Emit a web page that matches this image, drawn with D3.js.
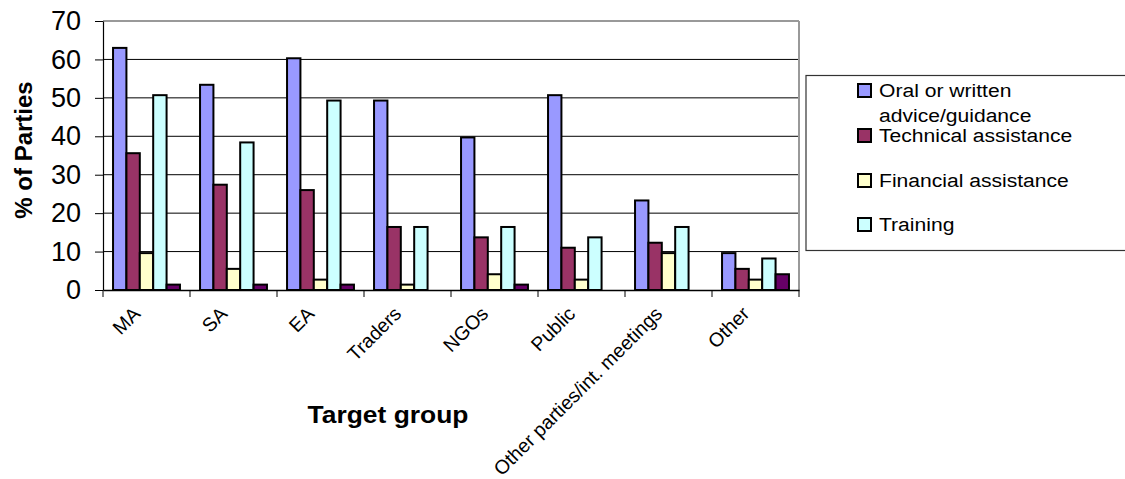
<!DOCTYPE html>
<html>
<head>
<meta charset="utf-8">
<script src="https://cdn.jsdelivr.net/npm/d3@7"></script>
<style>
  html, body { margin: 0; padding: 0; background: #fff; }
  svg { display: block; font-family: "Liberation Sans", Arial, sans-serif; }
</style>
</head>
<body>
<svg id="chart" width="1125" height="479"></svg>
<script>
// ---- data ----
const categories = ["MA", "SA", "EA", "Traders", "NGOs", "Public", "Other parties/int. meetings", "Other"];
const seriesNames = ["Oral or written advice/guidance", "Technical assistance", "Financial assistance", "Training", "Other support"];
const oralValues      = [63.0, 53.4, 60.3, 49.3, 39.7, 50.7, 23.3, 9.6];
const technicalValues = [35.6, 27.4, 26.0, 16.4, 13.7, 11.0, 12.3, 5.5];
const financialValues = [9.6, 5.5, 2.7, 1.4, 4.1, 2.7, 9.6, 2.7];
const trainingValues  = [50.7, 38.4, 49.3, 16.4, 16.4, 13.7, 16.4, 8.2];
const otherValues     = [1.4, 1.4, 1.4, 0, 1.4, 0, 0, 4.1];
const yTicks = [0, 10, 20, 30, 40, 50, 60, 70];
const legendEntries = [["Oral or written", "advice/guidance"], ["Technical assistance"], ["Financial assistance"], ["Training"]];
const colors = ["#9999FF", "#993366", "#FFFFCC", "#CCFFFF", "#660066"];

const seriesValues = [oralValues, technicalValues, financialValues, trainingValues, otherValues];

// ---- layout ----
const svg = d3.select("#chart");
const plot = { left: 103, right: 799, top: 21, bottom: 290 };

const x = d3.scaleBand().domain(categories).range([plot.left, plot.right]).paddingInner(0).paddingOuter(0);
const bw = x.bandwidth() / 6.5;
const xs = d3.scaleBand().domain(d3.range(5)).range([0.75 * bw, x.bandwidth() - 0.75 * bw]);
const y = d3.scaleLinear().domain([0, 70]).range([plot.bottom, plot.top]);

// gridlines
svg.append("g").selectAll("line").data(yTicks.filter(d => d > 0)).join("line")
  .attr("x1", plot.left).attr("x2", plot.right)
  .attr("y1", d => y(d)).attr("y2", d => y(d))
  .attr("stroke", d => d === 70 ? "#999" : "#000").attr("stroke-width", d => d === 70 ? 2 : 1);

// right border of plot area
svg.append("line").attr("x1", plot.right).attr("x2", plot.right)
  .attr("y1", plot.top).attr("y2", plot.bottom).attr("stroke", "#999").attr("stroke-width", 2);

// bars
const rows = [];
categories.forEach((c, i) => seriesValues.forEach((vals, s) => {
  if (vals[i] > 0) rows.push({ c, s, v: vals[i] });
}));
svg.append("g").selectAll("rect").data(rows).join("rect")
  .attr("x", d => x(d.c) + xs(d.s))
  .attr("y", d => y(d.v))
  .attr("width", xs.bandwidth())
  .attr("height", d => y(0) - y(d.v))
  .attr("fill", d => colors[d.s])
  .attr("stroke", "#000").attr("stroke-width", 2);

// y axis
const yAxis = svg.append("g").attr("transform", `translate(${plot.left},0)`)
  .call(d3.axisLeft(y).tickValues(yTicks).tickSize(8).tickPadding(14).tickSizeOuter(0));
yAxis.select(".domain").attr("stroke", "#000").attr("stroke-width", 1.2);
yAxis.selectAll(".tick line").attr("stroke", "#000");
yAxis.selectAll(".tick text").attr("font-size", 27).attr("fill", "#000")
  .attr("font-family", "Liberation Sans, Arial, sans-serif");

// x axis
const xAxis = svg.append("g").attr("transform", `translate(0,${plot.bottom})`)
  .call(d3.axisBottom(x).tickSize(0).tickFormat(""));
xAxis.select(".domain").attr("stroke", "#000").attr("stroke-width", 1.5);
// category boundary ticks
const bounds = categories.map(c => x(c)).concat([plot.right]);
svg.append("g").selectAll("line").data(bounds).join("line")
  .attr("x1", d => d).attr("x2", d => d)
  .attr("y1", plot.bottom).attr("y2", plot.bottom + 7)
  .attr("stroke", "#000").attr("stroke-width", 1);

// x category labels
svg.append("g").selectAll("text").data(categories).join("text")
  .attr("transform", d => `translate(${x(d) + x.bandwidth() / 2 - 5},${plot.bottom + 25}) rotate(-45)`)
  .attr("text-anchor", "end")
  .attr("font-size", 19.5)
  .attr("fill", "#000")
  .text(d => d);

// axis titles
svg.append("text")
  .attr("transform", "translate(32,150) rotate(-90)")
  .attr("text-anchor", "middle")
  .attr("font-size", 24).attr("font-weight", "bold")
  .text("% of Parties");

svg.append("text")
  .attr("transform", "translate(388,423) scale(1.1,1)")
  .attr("text-anchor", "middle")
  .attr("font-size", 24).attr("font-weight", "bold")
  .text("Target group");

// legend
const lg = svg.append("g");
lg.append("rect").attr("x", 806).attr("y", 75.5).attr("width", 340).attr("height", 175)
  .attr("fill", "#fff").attr("stroke", "#333").attr("stroke-width", 1.2);
const legendY = [84, 129, 174, 218];
legendEntries.forEach((lines, i) => {
  lg.append("rect").attr("x", 858).attr("y", legendY[i]).attr("width", 13).attr("height", 13)
    .attr("fill", colors[i]).attr("stroke", "#000").attr("stroke-width", 2);
  lines.forEach((t, j) => {
    lg.append("text")
      .attr("transform", `translate(879,${legendY[i] + 13 + j * 25}) scale(1.11,1)`)
      .attr("font-size", 19).attr("fill", "#000")
      .text(t);
  });
});
</script>
</body>
</html>
